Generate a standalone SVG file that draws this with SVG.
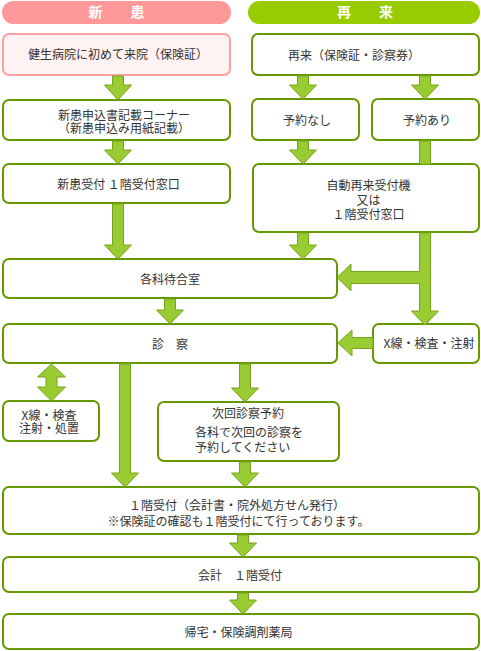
<svg xmlns="http://www.w3.org/2000/svg" width="481" height="651" viewBox="0 0 481 651">
<style>
text{font-family:"Noto Sans CJK JP","Noto Sans CJK SC",sans-serif;font-size:12px;fill:#333;text-anchor:middle}
.hd{font-size:14px;font-weight:bold;fill:#fff}
.st{text-anchor:start}
.box{stroke:#669900;stroke-width:2;fill:#fff}
.arr{fill:#99cc33;stroke:#76a51a;stroke-width:1;stroke-linejoin:miter}
</style>
<rect width="481" height="651" fill="#fff"/>
<g id="hdr-new"><rect x="2" y="1" width="229" height="23" rx="11.5" fill="#ff9999"/><text class="hd" x="116.5" y="17">新　　患</text></g>
<g id="hdr-return"><rect x="248" y="1" width="232" height="23" rx="11.5" fill="#99cc00"/><text class="hd" x="365" y="17">再　　来</text></g>

<g id="n-first"><rect x="3" y="34" width="227" height="41" rx="6" fill="#fff2f2" stroke="#ff9f9f" stroke-width="2"/><text x="118" y="59">健生病院に初めて来院（保険証）</text></g>
<g id="n-form"><rect class="box" x="3" y="100" width="227" height="40" rx="6"/><text x="124" y="119.5">新患申込書記載コーナー</text><text x="124" y="132.5">（新患申込み用紙記載）</text></g>
<g id="n-newrecept"><rect class="box" x="3" y="164" width="227" height="39" rx="6"/><text x="118.5" y="188.5">新患受付 １階受付窓口</text></g>
<g id="n-wait"><rect class="box" x="3" y="259" width="334" height="39" rx="6"/><text x="170" y="283.5">各科待合室</text></g>
<g id="n-exam"><rect class="box" x="3" y="324" width="334" height="39" rx="6" fill="#ffffe6"/><text x="170" y="348.5">診　察</text></g>
<g id="n-xray-left"><rect class="box" x="3" y="401" width="96" height="40" rx="6"/><text x="49" y="419.5">X線・検査</text><text x="49" y="432.5">注射・処置</text></g>
<g id="n-next"><rect class="box" x="158" y="402" width="181" height="59" rx="6"/><text x="248" y="417.5">次回診察予約</text><text class="st" x="195" y="436.5">各科で次回の診察を</text><text class="st" x="195" y="451.5">予約してください</text></g>
<g id="n-pay1"><rect class="box" x="3" y="487" width="476" height="47" rx="6"/><text x="237" y="509.5">１階受付（会計書・院外処方せん発行）</text><text x="238.5" y="525.5">※保険証の確認も１階受付にて行っております。</text></g>
<g id="n-pay2"><rect class="box" x="3" y="557" width="476" height="35" rx="6"/><text x="240" y="579.5">会計　１階受付</text></g>
<g id="n-home"><rect class="box" x="3" y="614" width="476" height="35" rx="6"/><text x="238.5" y="636.5">帰宅・保険調剤薬局</text></g>

<g id="n-return"><rect class="box" x="252" y="34" width="227" height="41" rx="6" fill="#f5ffe6"/><text x="354" y="59.5">再来（保険証・診察券）</text></g>
<g id="n-noresv"><rect class="box" x="252" y="99" width="107" height="41" rx="6" fill="#e6ffff"/><text x="307" y="124.5">予約なし</text></g>
<g id="n-resv"><rect class="box" x="372" y="99" width="107" height="41" rx="6" fill="#fff5e6"/><text x="427" y="124.5">予約あり</text></g>
<g id="n-auto"><rect class="box" x="253" y="164" width="226" height="68" rx="6"/><text x="368.5" y="189.5">自動再来受付機</text><text x="368.5" y="204.5">又は</text><text x="368.5" y="218.5">１階受付窓口</text></g>
<g id="n-xray-right"><rect class="box" x="373" y="324" width="106" height="39" rx="6"/><text x="429" y="347.5">X線・検査・注射</text></g>

<g id="connectors">
<polygon class="arr" points="112.5,76 123.5,76 123.5,85 131.5,85 118,100 104.5,85 112.5,85"/>
<polygon class="arr" points="112.5,141 123.5,141 123.5,150 131.5,150 118,164 104.5,150 112.5,150"/>
<polygon class="arr" points="112.5,204 123.5,204 123.5,245 131.5,245 118,259 104.5,245 112.5,245"/>
<polygon class="arr" points="164.5,299 175.5,299 175.5,310 183.5,310 170,324 156.5,310 164.5,310"/>
<polygon class="arr" points="297.5,76 308.5,76 308.5,85 316.5,85 303,99 289.5,85 297.5,85"/>
<polygon class="arr" points="419.5,76 430.5,76 430.5,85 438.5,85 425,99 411.5,85 419.5,85"/>
<polygon class="arr" points="297.5,141 308.5,141 308.5,150 316.5,150 303,164 289.5,150 297.5,150"/>
<polygon class="arr" points="419.5,141 430.5,141 430.5,164 419.5,164"/>
<polygon class="arr" points="297.5,233 308.5,233 308.5,245 316.5,245 303,259 289.5,245 297.5,245"/>
<polygon class="arr" points="419.5,233 430.5,233 430.5,311 438.5,311 425,325 411.5,311 419.5,311 419.5,283.5 351,283.5 351,291 337,277.5 351,264 351,271.5 419.5,271.5"/>
<polygon class="arr" points="373,337.5 373,348.5 352,348.5 352,356 338,343 352,330 352,337.5"/>
<polygon class="arr" points="51.5,364 65.5,377 57,377 57,387 65.5,387 51.5,401 37.5,387 46,387 46,377 37.5,377"/>
<polygon class="arr" points="119.5,364 130.5,364 130.5,473 138.5,473 125,487 111.5,473 119.5,473"/>
<polygon class="arr" points="239.5,364 250.5,364 250.5,388 258.5,388 245,402 231.5,388 239.5,388"/>
<polygon class="arr" points="239.5,462 250.5,462 250.5,473 258.5,473 245,487 231.5,473 239.5,473"/>
<polygon class="arr" points="237.5,535 248.5,535 248.5,543 256.5,543 243,557 229.5,543 237.5,543"/>
<polygon class="arr" points="237.5,593 248.5,593 248.5,600 256.5,600 243,614 229.5,600 237.5,600"/>
</g>
</svg>
